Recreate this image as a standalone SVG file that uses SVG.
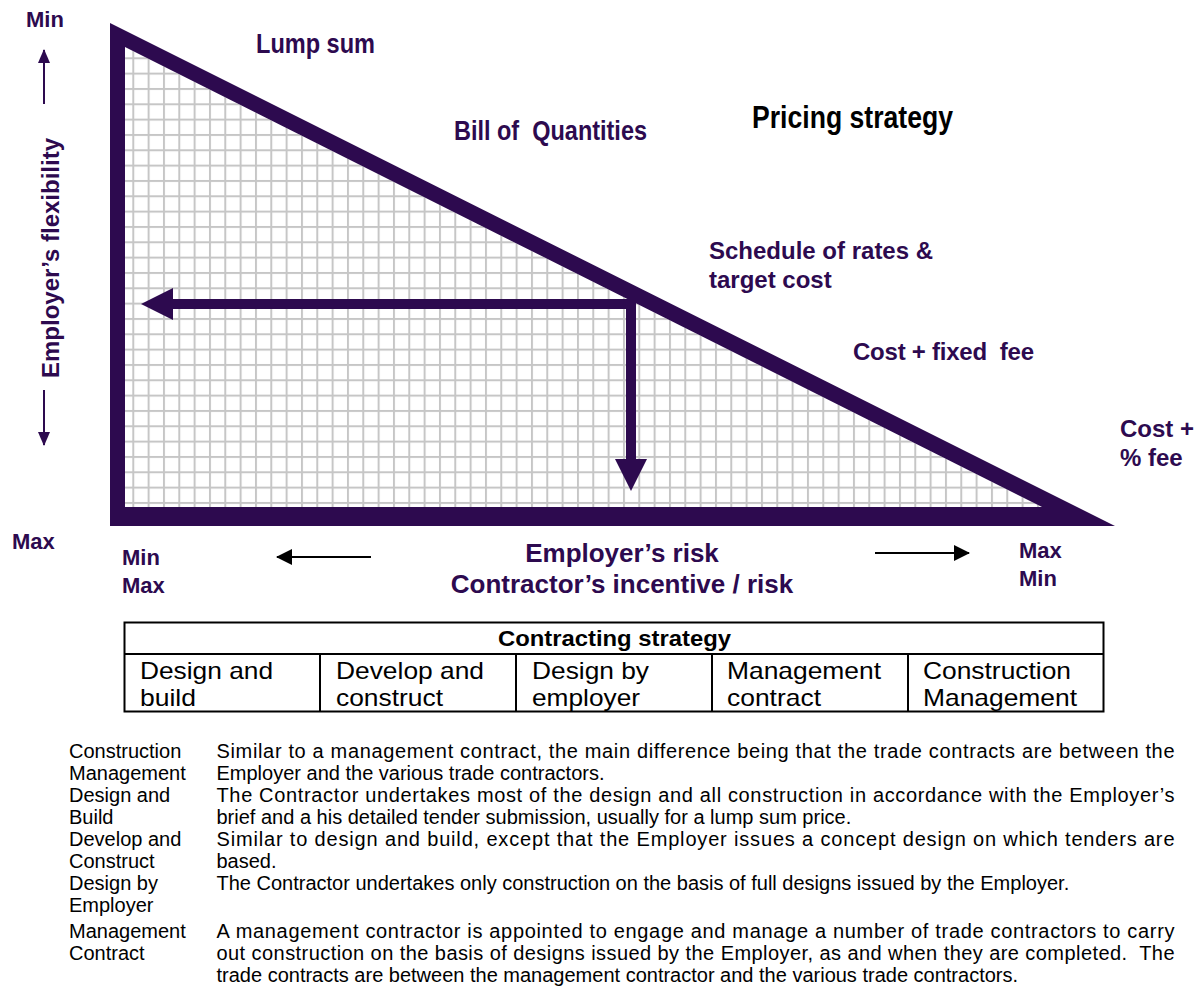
<svg xmlns="http://www.w3.org/2000/svg" width="1196" height="991" viewBox="0 0 1196 991">
  <style>
    .lbl { font-family: "Liberation Sans", Arial, sans-serif; font-weight: bold; fill: #2d0a4f; }
    .narrow { font-family: "Liberation Sans", Arial, sans-serif; font-weight: bold; }
    .cell { font-family: "Liberation Sans", Arial, sans-serif; font-size: 24px; fill: #000; }
    .desc { font-family: "Liberation Sans", Arial, sans-serif; font-size: 20px; fill: #000; white-space: pre; }
    .rule { stroke: #000; stroke-width: 2; }
    .thin { stroke: #000; stroke-width: 2; fill: none; }
    .axis { stroke: #2d0a4f; stroke-width: 2; fill: none; }
  </style>
  <defs>
    <pattern id="gridTile" patternUnits="userSpaceOnUse" x="132.3" y="57.3" width="15.333" height="15.333">
      <rect x="0" y="0" width="2" height="15.333" fill="#c6c6c6"/>
      <rect x="0" y="0" width="15.333" height="2" fill="#c6c6c6"/>
    </pattern>
    <clipPath id="innerTri">
      <polygon points="125,47 125,507 1042,507"/>
    </clipPath>
    <marker id="blackHead" viewBox="0 0 16 16" refX="15" refY="8" markerWidth="16" markerHeight="16" markerUnits="userSpaceOnUse" orient="auto">
      <path d="M0,0 L16,8 L0,16 Z" fill="#000"/>
    </marker>
    <marker id="purpleHead" viewBox="0 0 14 12" refX="13" refY="6" markerWidth="14" markerHeight="12" markerUnits="userSpaceOnUse" orient="auto">
      <path d="M0,0 L14,6 L0,12 Z" fill="#2d0a4f"/>
    </marker>
  </defs>

  <!-- gridded risk triangle -->
  <g id="triangle">
    <rect x="120" y="40" width="930" height="470" fill="url(#gridTile)" clip-path="url(#innerTri)"/>
    <path fill="#2d0a4f" fill-rule="evenodd" d="M110,23 L1115,526 L110,526 Z M125,47 L125,507 L1042,507 Z"/>
  </g>

  <!-- vertical axis: employer's flexibility -->
  <g id="axis-flexibility">
    <text class="lbl" x="45" y="27" font-size="22" text-anchor="middle">Min</text>
    <text class="lbl" x="12" y="549" font-size="22">Max</text>
    <text class="lbl" font-size="24" text-anchor="middle" transform="translate(59,258) rotate(-90)">Employer’s flexibility</text>
  </g>

  <!-- pricing strategy labels -->
  <g id="pricing">
    <text class="narrow" x="256" y="53" font-size="28" fill="#2d0a4f" textLength="119" lengthAdjust="spacingAndGlyphs">Lump sum</text>
    <text class="narrow" x="454" y="140" font-size="28" fill="#2d0a4f" textLength="193" lengthAdjust="spacingAndGlyphs" style="white-space:pre">Bill of  Quantities</text>
    <text class="narrow" x="752" y="128" font-size="31" fill="#000" textLength="201" lengthAdjust="spacingAndGlyphs">Pricing strategy</text>
    <text class="lbl" x="709" y="259" font-size="24">Schedule of rates &amp;</text>
    <text class="lbl" x="709" y="288" font-size="24">target cost</text>
    <text class="lbl" x="853" y="360" font-size="24" style="white-space:pre" textLength="181" lengthAdjust="spacing">Cost + fixed  fee</text>
    <text class="lbl" x="1120" y="437" font-size="24">Cost +</text>
    <text class="lbl" x="1120" y="466" font-size="24">% fee</text>
  </g>

  <!-- horizontal axis: employer's risk / contractor's incentive -->
  <g id="axis-risk">
    <text class="lbl" x="122" y="565" font-size="22">Min</text>
    <text class="lbl" x="122" y="593" font-size="22">Max</text>
    <text class="lbl" x="622" y="562" font-size="26" text-anchor="middle">Employer’s risk</text>
    <text class="lbl" x="622" y="593" font-size="26" text-anchor="middle">Contractor’s incentive / risk</text>
    <text class="lbl" x="1019" y="558" font-size="22">Max</text>
    <text class="lbl" x="1019" y="586" font-size="22">Min</text>
  </g>

  <!-- connectors -->
  <g id="connectors">
    <line class="axis" x1="44" y1="104" x2="44" y2="50" marker-end="url(#purpleHead)"/>
    <line class="axis" x1="44" y1="390" x2="44" y2="445" marker-end="url(#purpleHead)"/>
    <line class="thin" x1="371" y1="557" x2="277" y2="557" marker-end="url(#blackHead)"/>
    <line class="thin" x1="875" y1="553" x2="969" y2="553" marker-end="url(#blackHead)"/>
    <path fill="#2d0a4f" d="M141,304 L173,288 L173,299 L636,299 L636,459 L647,459 L631,491 L615,459 L626,459 L626,309 L173,309 L173,320 Z"/>
  </g>

  <!-- contracting strategy table -->
  <g id="table">
    <rect x="124.5" y="622.5" width="979" height="89" fill="#fff" stroke="#000" stroke-width="2"/>
    <line class="rule" x1="124" y1="654" x2="1104" y2="654"/>
    <line class="rule" x1="320" y1="654" x2="320" y2="712"/>
    <line class="rule" x1="516" y1="654" x2="516" y2="712"/>
    <line class="rule" x1="712" y1="654" x2="712" y2="712"/>
    <line class="rule" x1="908" y1="654" x2="908" y2="712"/>
    <text x="498" y="646" font-family="Liberation Sans, Arial, sans-serif" font-weight="bold" font-size="22" textLength="233" lengthAdjust="spacingAndGlyphs">Contracting strategy</text>
    <text class="cell" x="140" y="679" textLength="133" lengthAdjust="spacingAndGlyphs">Design and</text>
    <text class="cell" x="140" y="706" textLength="56" lengthAdjust="spacingAndGlyphs">build</text>
    <text class="cell" x="336" y="679" textLength="148" lengthAdjust="spacingAndGlyphs">Develop and</text>
    <text class="cell" x="336" y="706" textLength="107" lengthAdjust="spacingAndGlyphs">construct</text>
    <text class="cell" x="532" y="679" textLength="117" lengthAdjust="spacingAndGlyphs">Design by</text>
    <text class="cell" x="532" y="706" textLength="108" lengthAdjust="spacingAndGlyphs">employer</text>
    <text class="cell" x="727" y="679" textLength="154" lengthAdjust="spacingAndGlyphs">Management</text>
    <text class="cell" x="727" y="706" textLength="94" lengthAdjust="spacingAndGlyphs">contract</text>
    <text class="cell" x="923" y="679" textLength="148" lengthAdjust="spacingAndGlyphs">Construction</text>
    <text class="cell" x="923" y="706" textLength="154" lengthAdjust="spacingAndGlyphs">Management</text>
  </g>

  <!-- glossary of contracting strategies -->
  <g id="glossary">
    <text class="desc" x="69" y="758">Construction</text>
    <text class="desc" x="69" y="780">Management</text>
    <text class="desc" x="69" y="802">Design and</text>
    <text class="desc" x="69" y="824">Build</text>
    <text class="desc" x="69" y="846">Develop and</text>
    <text class="desc" x="69" y="868">Construct</text>
    <text class="desc" x="69" y="890">Design by</text>
    <text class="desc" x="69" y="912">Employer</text>
    <text class="desc" x="69" y="938">Management</text>
    <text class="desc" x="69" y="960">Contract</text>

    <text class="desc" x="216.5" y="758" textLength="958" lengthAdjust="spacing">Similar to a management contract, the main difference being that the trade contracts are between the</text>
    <text class="desc" x="216.5" y="780">Employer and the various trade contractors.</text>
    <text class="desc" x="216.5" y="802" textLength="958" lengthAdjust="spacing">The Contractor undertakes most of the design and all construction in accordance with the Employer’s</text>
    <text class="desc" x="216.5" y="824">brief and a his detailed tender submission, usually for a lump sum price.</text>
    <text class="desc" x="216.5" y="846" textLength="958" lengthAdjust="spacing">Similar to design and build, except that the Employer issues a concept design on which tenders are</text>
    <text class="desc" x="216.5" y="868">based.</text>
    <text class="desc" x="216.5" y="890">The Contractor undertakes only construction on the basis of full designs issued by the Employer.</text>
    <text class="desc" x="216.5" y="938" textLength="958" lengthAdjust="spacing">A management contractor is appointed to engage and manage a number of trade contractors to carry</text>
    <text class="desc" x="216.5" y="960" textLength="958" lengthAdjust="spacing">out construction on the basis of designs issued by the Employer, as and when they are completed.  The</text>
    <text class="desc" x="216.5" y="982">trade contracts are between the management contractor and the various trade contractors.</text>
  </g>
</svg>
